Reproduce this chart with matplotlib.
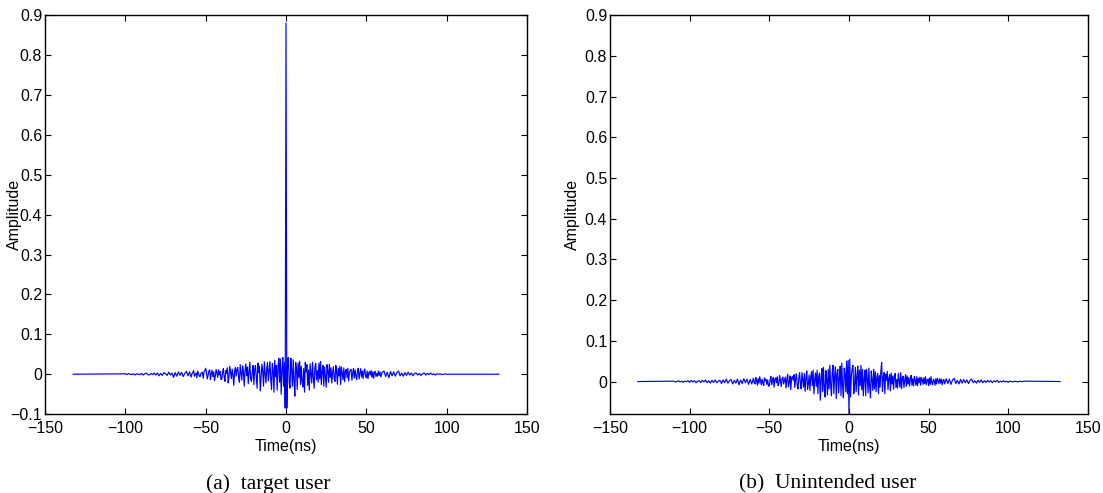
import numpy as np
import matplotlib
matplotlib.use("Agg")
import matplotlib.pyplot as plt

# time grid (ns): 1 ns samples in the tails, 0.5 ns samples in the centre,
# plus the flat ends of each trace
t_a = np.concatenate([np.arange(-100, -60), np.arange(-60, 60.5, 0.5), np.arange(61, 101)])
t_b = np.concatenate([np.arange(-110, -60), np.arange(-60, 60.5, 0.5), np.arange(61, 111)])
t_ends = (-132.5, 132.5)

# amplitude x 1e-3, (a) target user
amp_a_milli = [
    # -100 .. -61 (1 ns)
    1, -1, 2, 0, -1, 1, -2, 1, 0, -1,
    2, -2, 1, 3, -1, -2, 2, -1, 3, -2,
    3, -4, 2, -3, 4, 1, -3, 5, -2, 3,
    -8, 4, -5, 6, -3, 5, -6, 2, 7, -4,
    # -60 .. -0.5 (0.5 ns)
    6, -3, -7, 2, 4, 9, -5, -1, 3, -9, 8, 2, -4, -6, 1, 5, 3, -10, 7, 9,
    15, 4, -12, -3, 8, 11, -14, 2, 10, -6, 6, -16, -4, 12, 3, -8, 11, -2, 7, -13,
    -13, 5, 14, -6, -18, 9, 2, 16, -22, -7, 20, 4, -11, 13, -3, -28, 8, 17, -5, 12,
    17, -9, -20, 24, 3, -15, 21, 6, -30, 10, 26, -4, 18, -24, 7, 30, -12, -18, 5, 22,
    -26, 12, 22, -8, -35, 28, 4, 19, -42, -10, 25, 8, -30, 31, 2, -22, 14, 29, -17, 6,
    32, -12, -38, 27, 9, -45, 35, -6, 22, -40, 18, 40, -20, 38, -50, 12, 42, -30, 30, -85,
    # 0
    880,
    # 0.5 .. 60 (0.5 ns)
    -85, 36, 42, -22, -35, 40, 10, -30, 36, -16, -55, 30, 14, -38, 28, -8, 33, -26, 20, -18,
    -32, 14, -45, 30, 6, 24, -28, 11, -40, 26, 3, -22, 30, -9, -35, 18, 27, -14, 9, -20,
    28, -12, 32, -26, 7, 22, -30, 18, -5, -33, 24, 10, -20, 25, -8, 16, -22, 4, 19, -11,
    -18, 22, 6, -25, 15, -4, 20, -26, 18, 3, -14, 16, -19, 7, 12, -9, 15, -17, 5, 10,
    12, -15, 3, 14, -10, 11, -5, -13, 9, 15, -12, 2, 14, -7, 8, -11, 6, 13, -4, -9,
    8, -11, 3, 7, -2, 9, -8, 6, -10, 4, 7, -6, 2, -5, 8, -3, 6, -7, 1, 5,
    # 61 .. 100 (1 ns)
    8, -6, 5, -9, 7, -4, 6, -5, 4, 8,
    -4, 3, -5, 4, -3, 5, -2, 3, -4, 2,
    3, -2, 2, -3, 1, 3, -2, 2, -1, 3,
    -1, 1, -2, 1, 0, 1, -1, 0, 1, 0,
]

# amplitude x 1e-3, (b) unintended user
amp_b_milli = [
    # -110 .. -61 (1 ns)
    1, -1, 0, 2, -1, 1, -2, 1, 0, 2,
    -2, 3, -1, 2, -3, 1, 2, -2, 3, -1,
    4, -3, 2, -4, 3, -2, 4, -3, 1, 3,
    -5, 4, -3, 6, -4, 2, 5, -6, 3, -4,
    6, -8, 4, -5, 7, -3, 6, -7, 5, -6,
    # -60 .. -0.5 (0.5 ns)
    8, -2, -6, 10, 3, -9, 7, -4, 12, 1, -8, 6, -3, -10, 9, 2, 5, -7, 4, -11,
    -11, 4, 13, -8, 2, 10, -14, 6, 9, -3, 12, -10, -5, 15, 1, -12, 8, 11, -6, 3,
    11, -16, 5, 18, -13, -2, 14, -20, 9, 12, 3, 17, -15, 6, 19, -9, -18, 8, 22, -4,
    -18, 22, 4, -14, 20, -24, 9, 26, -19, -6, 16, -22, 11, 24, -10, 28, -30, 5, 21, -12,
    28, -30, 12, 21, -46, 8, 32, -25, 35, -14, -38, 27, 6, -33, 30, -18, 40, -9, -35, 22,
    40, -30, 14, 36, -42, 20, 30, -28, 8, 38, -35, 45, -12, -40, 33, 18, -25, 50, -30, 52,
    # 0
    -80,
    # 0.5 .. 60 (0.5 ns)
    55, -38, 15, 32, 40, -30, -8, 35, -25, 12, 38, -33, 28, -10, 40, -20, 30, -35, 6, 28,
    -35, 30, 8, -28, 33, -12, -40, 26, 4, -22, 30, -18, 24, -25, 10, 20, -30, 15, -14, 25,
    47, -24, 10, 22, -30, 18, 3, 25, -20, 8, 17, -23, 21, -6, 14, -19, 12, 20, -15, 5,
    -16, 20, 4, -14, 22, -18, 9, 13, -15, 3, 17, -12, 14, -6, 10, -11, 5, 15, -9, 7,
    -11, 13, 2, -9, 12, -10, 8, -3, 11, -9, 10, 4, -7, 9, -5, 12, -8, 3, 6, -10,
    9, -7, 12, -3, -8, 6, 2, -9, 7, -6, 8, 1, -5, 7, -4, 6, -8, 2, 5, -6,
    # 61 .. 110 (1 ns)
    7, -5, 6, -7, 4, 8, -5, 3, -6, 5,
    -4, 5, -3, 4, -5, 3, 6, -3, 2, -4,
    3, -2, 4, -3, 2, -2, 3, -1, 2, -3,
    2, -1, 3, -2, 1, -1, 2, -1, 1, -2,
    1, 0, -1, 1, 0, -1, 1, 0, 0, 1,
]

captions = ["(a)  target user", "(b)  Unintended user"]
xtick_vals = [-150, -100, -50, 0, 50, 100, 150]

plt.rcParams['font.family'] = ['Liberation Sans', 'DejaVu Sans']

fig = plt.figure(figsize=(11.03, 4.93), dpi=100)
ax_a = fig.add_axes([0.0408, 0.160, 0.437, 0.8094])
ax_b = fig.add_axes([0.553, 0.160, 0.4334, 0.8094])


def trace(t, milli):
    x = np.concatenate([[t_ends[0]], t, [t_ends[1]]])
    y = np.concatenate([[0.0], np.array(milli) / 1000.0, [0.0]])
    return x, y


def fmt(v):
    s = '0' if abs(v) < 1e-9 else (f'{v:g}' if abs(v) >= 1 else f'{v:.1f}')
    return s.replace('-', '\u2212')


panels = [(ax_a, t_a, amp_a_milli, (-0.1, 0.9), np.arange(-1, 10) / 10, -0.048),
          (ax_b, t_b, amp_b_milli, (-0.08, 0.9), np.arange(0, 10) / 10, -0.062)]

for ax, t, milli, ylim, yt, lab_x in panels:
    x, y = trace(t, milli)
    ax.plot(x, y, color='#0000ff', lw=0.85)
    ax.set_xlim(-150, 150)
    ax.set_ylim(*ylim)
    ax.set_xticks(xtick_vals)
    ax.set_xticklabels([fmt(v) for v in xtick_vals])
    ax.set_yticks(yt)
    ax.set_yticklabels([fmt(v) for v in yt])
    ax.tick_params(direction='in', top=True, right=True, labelsize=11.5, length=4)
    ax.tick_params(axis='x', pad=5)
    ax.tick_params(axis='y', pad=2)
    for s in ax.spines.values():
        s.set_linewidth(1.0)
    ax.set_xlabel('Time(ns)', fontsize=11.5, labelpad=2)
    ax.set_ylabel('Amplitude', fontsize=11.5)
    ax.yaxis.set_label_coords(lab_x, 0.5)

fig.text(268 / 1103, 1 - 484 / 493, captions[0], family='Liberation Serif', fontsize=15.5,
         ha='center', va='center')
fig.text(828 / 1103, 1 - 484 / 493, captions[1], family='Liberation Serif', fontsize=15.5,
         ha='center', va='center')

fig.savefig('out.png', dpi=100)
